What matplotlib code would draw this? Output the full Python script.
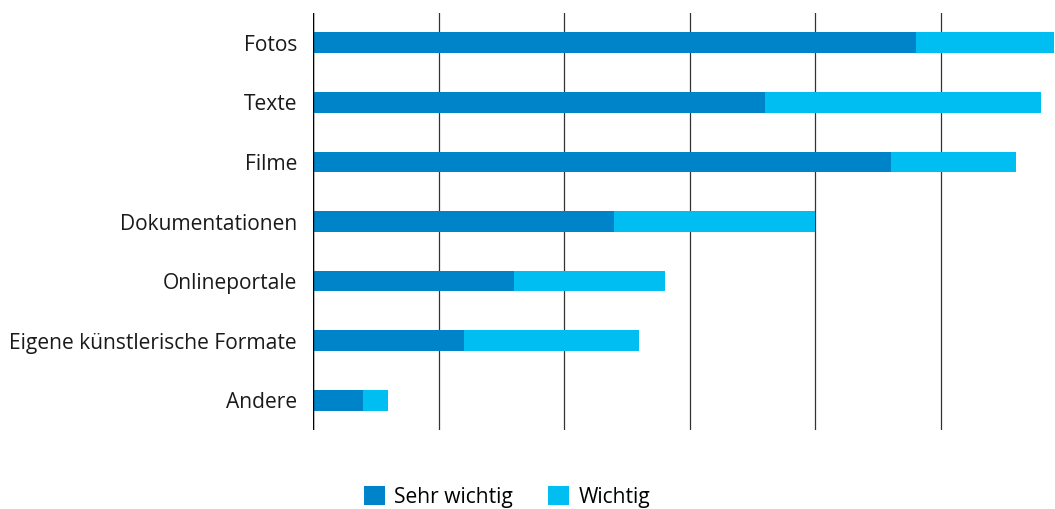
import matplotlib
matplotlib.use("Agg")
import matplotlib.pyplot as plt
from matplotlib.patches import Patch

categories = ["Fotos", "Texte", "Filme", "Dokumentationen", "Onlineportale",
              "Eigene künstlerische Formate", "Andere"]
sehr_wichtig = [48, 36, 46, 24, 16, 12, 4]
wichtig = [11, 22, 10, 16, 12, 14, 2]
series_names = ["Sehr wichtig", "Wichtig"]
colors = ["#0084C9", "#00BEF2"]

plt.rcParams['font.family'] = ['Open Sans', 'DejaVu Sans']

W, H = 1055, 509
fig = plt.figure(figsize=(W / 100, H / 100), dpi=100)
ax = fig.add_axes([313 / W, 1 - 430 / H, (1055 - 313) / W, (430 - 13) / H])

y = list(range(len(categories)))
ax.barh(y, sehr_wichtig, height=0.35, color=colors[0], zorder=3)
ax.barh(y, wichtig, left=sehr_wichtig, height=0.35, color=colors[1], zorder=3)

ax.set_xlim(0, 59.1)
ax.set_ylim(len(categories) - 0.5, -0.5)
ax.set_xticks([0, 10, 20, 30, 40, 50])
ax.set_xticklabels([])
ax.tick_params(axis='x', length=0)
ax.tick_params(axis='y', length=0, pad=11.5, labelsize=15.1, labelcolor="#1a1a1a")
ax.set_yticks(y)
ax.set_yticklabels(categories)
ax.grid(axis='x', color='#333333', linewidth=0.9, zorder=0)
for s in ax.spines.values():
    s.set_visible(False)
ax.axvline(0, color='black', linewidth=1.0, zorder=4)

handles = [Patch(facecolor=c, edgecolor='none') for c in colors]
fig.legend(handles, series_names, loc='center', bbox_to_anchor=(507 / W, 1 - 497 / H),
           ncol=2, frameon=False, fontsize=15.1, handlelength=1.0, handleheight=1.0,
           handletextpad=0.43, columnspacing=1.7, borderpad=0, borderaxespad=0)

fig.savefig("out.png", dpi=100)
